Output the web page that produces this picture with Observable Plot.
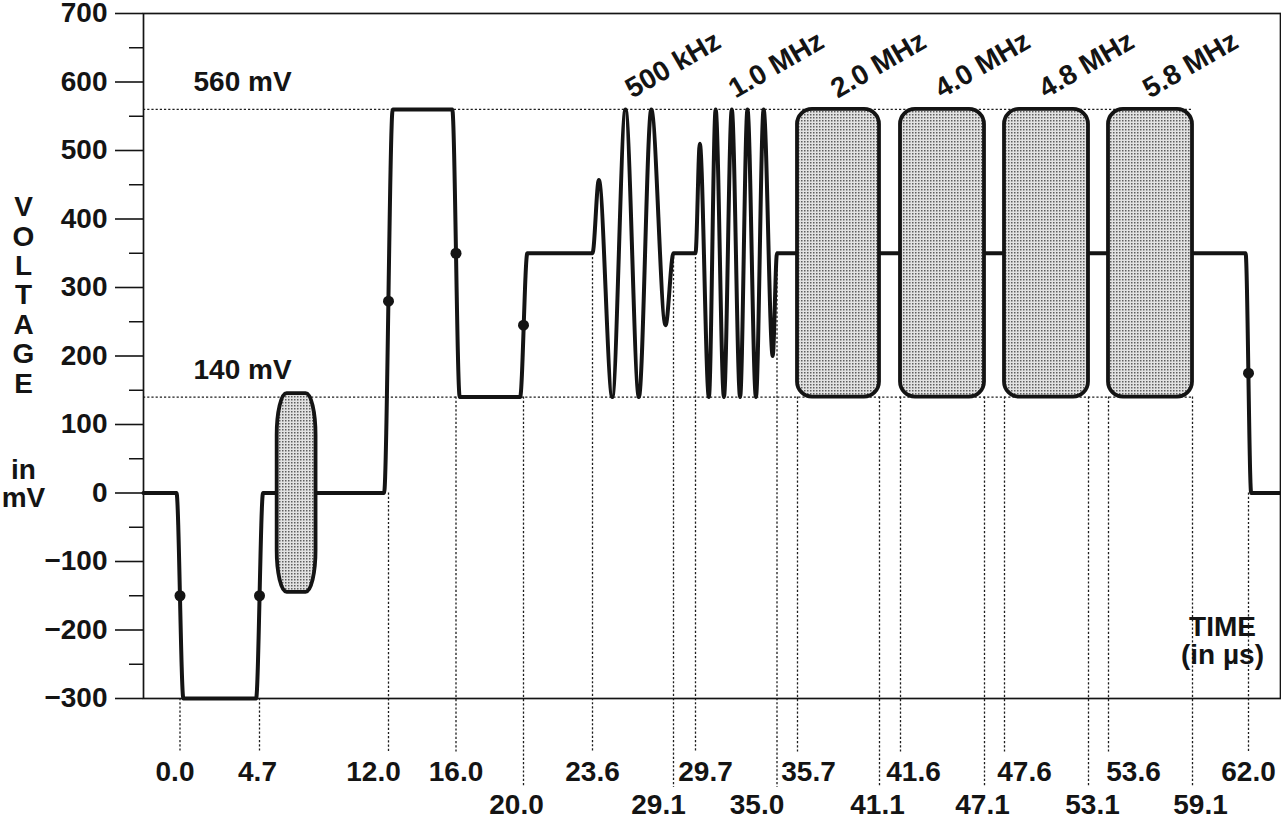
<!DOCTYPE html>
<html>
<head>
<meta charset="utf-8">
<script src="https://cdn.jsdelivr.net/npm/d3@7"></script>
<script src="https://cdn.jsdelivr.net/npm/@observablehq/plot@0.6"></script>
<style>
  html, body { margin: 0; padding: 0; background: #fff; }
  #chart svg { display: block; }
</style>
</head>
<body>
<svg width="0" height="0" style="position:absolute">
  <defs>
    <pattern id="stipple" width="3" height="3" patternUnits="userSpaceOnUse">
      <rect width="3" height="3" fill="#e2e2e2"></rect>
      <rect x="0" y="0" width="1.5" height="1.5" fill="#5e5e5e"></rect>
    </pattern>
  </defs>
</svg>
<div id="chart"></div>
<script>
// ---------------- DATA ----------------
// Waveform (time in µs, voltage in mV)
const signalTime = [-2.1, -0.2, 0.2, 4.5, 4.9, 11.75, 12.25, 15.78, 16.22, 19.8, 20.2, 23.6,
  24.03, 24.94, 25.84, 26.75, 27.59, 28.56, 29.1,
  29.7, 29.98, 30.57, 31.01, 31.55, 32.06, 32.6, 33.08, 33.63, 34.13, 34.72, 35.0,
  61.85, 62.15, 63.8];
const signalMv = [0, 0, -300, -300, 0, 0, 560, 560, 140, 140, 350, 350,
  457, 140, 560, 140, 560, 245, 350,
  350, 510, 140, 560, 140, 560, 140, 560, 140, 560, 200, 350,
  350, 0, 0];

// Marked transition points
const dotTime = [0.0, 4.7, 12.0, 16.0, 20.0, 62.0];
const dotMv = [-150, -150, 280, 350, 245, 175];

// Colour burst envelope
const colorBurstStart = 5.7;
const colorBurstEnd = 7.9;
const colorBurstLow = -145;
const colorBurstHigh = 145;

// Frequency bursts (first two drawn as waveform, the rest as packets)
const freqLabel = ["500 kHz", "1.0 MHz", "2.0 MHz", "4.0 MHz", "4.8 MHz", "5.8 MHz"];
const freqStart = [23.6, 29.7, 35.7, 41.6, 47.6, 53.6];
const freqEnd = [29.1, 35.0, 41.1, 47.1, 53.1, 59.1];
const packetLow = 140;
const packetHigh = 560;

// Reference levels
const levelValues = [560, 140];
const levelLabels = ["560 mV", "140 mV"];
const levelEnd = 59.1;

// Time markers (tick labels), which label row, and level where dotted line starts
const tickTimes = [0.0, 4.7, 12.0, 16.0, 20.0, 23.6, 29.1, 29.7, 35.0, 35.7, 41.1, 41.6, 47.1, 47.6, 53.1, 53.6, 59.1, 62.0];
const tickRow =   [1,   1,   1,    1,    2,    1,    2,    1,    2,    1,    2,    1,    2,    1,    2,    1,    2,    1];
const tickTopMv = [-300, -300, 0, 140, 140, 350, 350, 350, 350, 140, 140, 140, 140, 140, 140, 140, 140, 0];

// Voltage axis ticks
const yTickValues = [-300, -200, -100, 0, 100, 200, 300, 400, 500, 600, 700];
const yMinorValues = [-250, -150, -50, 50, 150, 250, 350, 450, 550, 650];

// Schematic (non-uniform) time axis: break points and their pixel positions
const axisTimes = [-2.1, 0.0, 4.7, 12.0, 16.0, 20.0, 23.6, 29.1, 29.7, 35.0, 35.7, 41.1, 41.6, 47.1, 47.6, 53.1, 53.6, 59.1, 62.0, 63.8];
const axisPx =    [143, 179.5, 259, 388, 455.5, 523, 592, 673, 695, 776.5, 797, 879, 900, 984, 1004, 1088, 1108, 1192, 1248, 1280];

// ---------------- BUILD ----------------
const signal = signalTime.map((t, i) => ({t, v: signalMv[i]}));
const dots = dotTime.map((t, i) => ({t, v: dotMv[i]}));
const freqs = freqLabel.map((label, i) => ({label, s: freqStart[i], e: freqEnd[i]}));
const packets = freqs.slice(2);
const levels = levelValues.map((v, i) => ({v, label: levelLabels[i]}));
const ticks = tickTimes.map((t, i) => ({t, row: tickRow[i], top: tickTopMv[i], label: t.toFixed(1)}));

// per-label horizontal nudges (layout only)
const labelShift = {"0.0": -5, "4.7": -2, "12.0": -15, "20.0": -7, "29.1": -15, "29.7": 10, "35.0": -20,
  "35.7": 11, "41.1": -2, "41.6": 13, "47.1": -2, "47.6": 20, "53.1": 4, "53.6": 25, "59.1": 8};

const ink = "#141414";
const dash = {stroke: "#1e1e1e", strokeWidth: 1.3, strokeDasharray: "2.2,2"};

const tickLabelMarks = ticks.map(d => Plot.text([d], {
  x: "t", text: "label", frameAnchor: "bottom",
  dy: d.row === 1 ? 74 : 107, dx: labelShift[d.label] || 0,
  textAnchor: "middle", lineAnchor: "middle", fill: ink
}));

const chart = Plot.plot({
  width: 1281,
  height: 824,
  marginLeft: 143,
  marginRight: 1,
  marginTop: 13,
  marginBottom: 126,
  style: {fontFamily: "'Liberation Sans', Arial, Helvetica, sans-serif", fontSize: "28px", fontWeight: "bold", background: "#fff", color: ink},
  x: {type: "linear", domain: axisTimes, range: axisPx, axis: null},
  y: {domain: [-300, 700], label: null},
  marks: [
    Plot.ruleY(levels, {y: "v", x1: axisTimes[0], x2: levelEnd, ...dash}),
    Plot.ruleX(ticks, {x: "t", y1: "top", y2: d => d.row === 1 ? -379 : -430, ...dash}),
    Plot.frame({stroke: ink, strokeWidth: 1.7}),
    Plot.axisY(yMinorValues, {tickSize: 14, tickFormat: () => "", strokeWidth: 1.5, stroke: ink, label: null}),
    Plot.axisY(yTickValues, {tickSize: 28, tickPadding: 8, strokeWidth: 1.6, stroke: ink, fill: ink, label: null,
      tickFormat: d => d < 0 ? "\u2212" + (-d) : String(d)}),
    Plot.line(signal, {x: "t", y: "v", curve: "monotone-x", stroke: ink, strokeWidth: 4, strokeLinejoin: "round", strokeLinecap: "round"}),
    Plot.rect([{s: colorBurstStart, e: colorBurstEnd, lo: colorBurstLow, hi: colorBurstHigh}],
      {x1: "s", x2: "e", y1: "lo", y2: "hi", rx: 10, ry: 42, fill: "url(#stipple)", stroke: ink, strokeWidth: 3.8}),
    Plot.rect(packets, {x1: "s", x2: "e", y1: packetLow, y2: packetHigh, rx: 15, fill: "url(#stipple)", stroke: ink, strokeWidth: 3.8}),
    Plot.dot(dots, {x: "t", y: "v", r: 5.5, fill: ink, stroke: "none"}),
    Plot.text(levels, {y: "v", text: "label", frameAnchor: "left", dx: 50, dy: -27, textAnchor: "start", lineAnchor: "middle", fill: ink}),
    Plot.text(freqs, {x: d => (d.s + d.e) / 2, y: 625, text: "label", rotate: -30, dx: 40, textAnchor: "middle", lineAnchor: "middle", fill: ink}),
    ...tickLabelMarks,
    Plot.text(["V\nO\nL\nT\nA\nG\nE"], {frameAnchor: "left", dx: -120, dy: -61, textAnchor: "middle", lineAnchor: "middle", lineHeight: 1.05, fill: ink}),
    Plot.text(["in\nmV"], {frameAnchor: "left", dx: -120, dy: 128, textAnchor: "middle", lineAnchor: "middle", lineHeight: 1.0, fill: ink}),
    Plot.text(["TIME\n(in \u00b5s)"], {frameAnchor: "bottom-right", dx: -58, dy: -57, textAnchor: "middle", lineAnchor: "middle", lineHeight: 1.0, fill: ink})
  ]
});
document.getElementById("chart").appendChild(chart);
</script>
</body>
</html>
